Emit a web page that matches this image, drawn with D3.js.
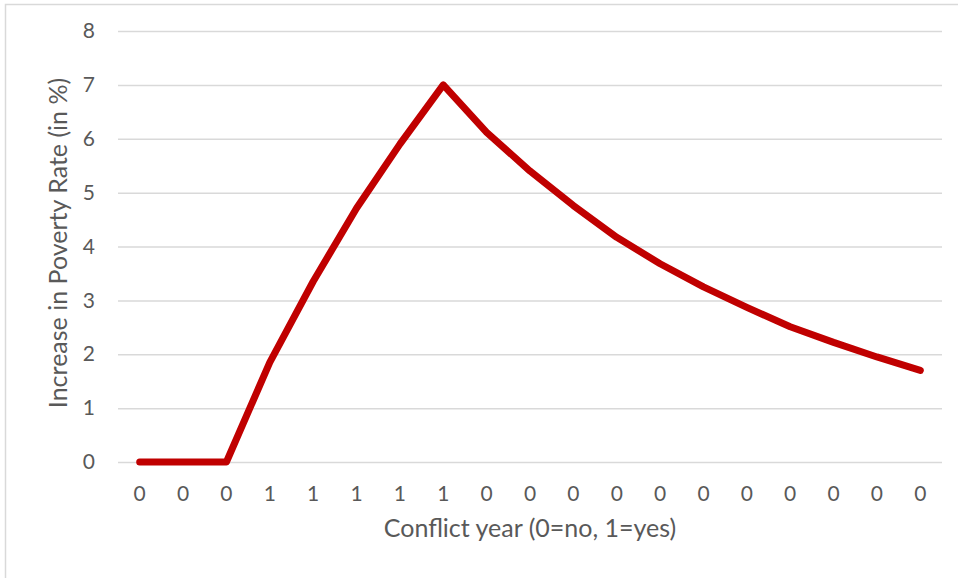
<!DOCTYPE html>
<html>
<head>
<meta charset="utf-8">
<script src="https://cdn.jsdelivr.net/npm/d3@7"></script>
<style>
  html, body { margin: 0; padding: 0; background: #fff; }
  svg { display: block; }
  text { font-family: Lato, "Open Sans", sans-serif; fill: #595959; }
</style>
</head>
<body>
<svg id="chart" width="958" height="578"></svg>
<script>
// Conflict indicator for each year (0 = no, 1 = yes)
const conflictYears = ["0","0","0","1","1","1","1","1","0","0","0","0","0","0","0","0","0","0","0"];
// Increase in poverty rate (%) for each year
const povertyIncrease = [0, 0, 0, 1.85, 3.35, 4.71, 5.9, 7.0, 6.12, 5.4, 4.76, 4.17, 3.68, 3.25, 2.87, 2.51, 2.22, 1.95, 1.7];
const yTicks = [0, 1, 2, 3, 4, 5, 6, 7, 8];

const svg = d3.select("#chart");
const W = 958, H = 578;
const margin = { left: 118, right: 16, top: 31, bottom: 116 };
const plotW = W - margin.left - margin.right;
const plotH = H - margin.top - margin.bottom;

// outer chart frame
svg.append("rect")
  .attr("x", 5.5).attr("y", 4.5)
  .attr("width", W + 10).attr("height", H + 10)
  .attr("fill", "none").attr("stroke", "#d9d9d9").attr("stroke-width", 1.5);

const g = svg.append("g").attr("transform", `translate(${margin.left},${margin.top})`);

const idx = conflictYears.map((d, i) => i);
const x = d3.scaleBand().domain(idx).range([0, plotW]).paddingInner(0).paddingOuter(0);
const y = d3.scaleLinear().domain([0, 8]).range([plotH, 0]);

// horizontal gridlines
g.append("g")
  .call(d3.axisLeft(y).tickValues(yTicks).tickSize(-plotW).tickFormat(""))
  .call(s => s.select(".domain").remove())
  .call(s => s.selectAll("line").attr("stroke", "#d9d9d9").attr("stroke-width", 1.5));

// y tick labels
g.append("g")
  .call(d3.axisLeft(y).tickValues(yTicks).tickSize(0).tickPadding(23))
  .call(s => s.select(".domain").remove())
  .call(s => s.selectAll("text").style("font-size", "21px").attr("fill", "#595959"));

// x tick labels
g.append("g")
  .attr("transform", `translate(0,${plotH})`)
  .call(d3.axisBottom(x).tickFormat(i => conflictYears[i]).tickSize(0).tickPadding(24))
  .call(s => s.select(".domain").remove())
  .call(s => s.selectAll("text").style("font-size", "21px").attr("fill", "#595959"));

// poverty line
const line = d3.line()
  .x((d, i) => x(i) + x.bandwidth() / 2)
  .y(d => y(d));

g.append("path")
  .datum(povertyIncrease)
  .attr("d", line)
  .attr("fill", "none")
  .attr("stroke", "#c00000")
  .attr("stroke-width", 7)
  .attr("stroke-linecap", "round")
  .attr("stroke-linejoin", "round");

// axis titles
svg.append("text")
  .attr("x", margin.left + plotW / 2)
  .attr("y", 537)
  .attr("text-anchor", "middle")
  .style("font-size", "25px")
  .text("Conflict year (0=no, 1=yes)");

svg.append("text")
  .attr("transform", `translate(67,${243}) rotate(-90)`)
  .attr("text-anchor", "middle")
  .style("font-size", "25px")
  .text("Increase in Poverty Rate (in %)");
</script>
</body>
</html>
